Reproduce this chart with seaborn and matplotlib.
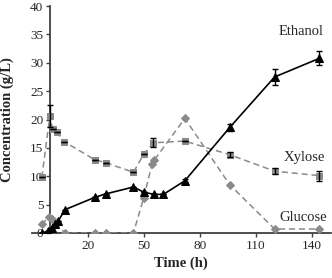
import numpy as np
import pandas as pd
import seaborn as sns
import matplotlib
matplotlib.use('Agg')
import matplotlib.pyplot as plt

# values
eth_t = [-4.5, -1, 0.7, 2.5, 4.3, 7.8, 24, 29.8, 44.5, 50, 55.5, 60.5, 72, 96, 120, 144]
eth_c = [0, 0.3, 0.9, 1.5, 2.1, 4.1, 6.3, 6.9, 8.1, 7.2, 6.8, 6.8, 9.2, 18.6, 27.5, 30.8]
eth_e = [0, 0, 0, 0, 0, 0, 0, 0, 0, 0, 0, 0, 0.3, 0.7, 1.4, 1.2]

xyl_t = [-4.5, -0.2, 1.3, 3.4, 7.5, 23.9, 29.6, 44.5, 50, 55.2, 72, 96, 120, 144]
xyl_c = [9.8, 20.6, 18.3, 17.8, 16.1, 12.9, 12.4, 10.7, 13.9, 15.9, 16.2, 13.8, 10.9, 10.1]
xyl_e = [0, 2.0, 0, 0, 0, 0, 0, 0, 0, 0.8, 0, 0.4, 0.5, 0.9]

glu_t = [-4.5, -0.5, 1.0, 7.8, 23.9, 29.8, 44.5, 50, 54.5, 55.5, 72, 96, 120, 144]
glu_c = [1.5, 2.9, 2.4, 0, 0, 0, 0, 6.2, 12.2, 12.8, 20.2, 8.5, 0.7, 0.7]

sns.set_style('white')
plt.rcParams['font.family'] = ['Liberation Serif', 'DejaVu Serif']

fig = plt.figure(figsize=(3.32, 2.78), dpi=100)
ax = fig.add_axes([0.095, 0.162, 0.901, 0.816])

gray = '#8a8a8a'
df_x = pd.DataFrame({'t': xyl_t, 'c': xyl_c})
df_g = pd.DataFrame({'t': glu_t, 'c': glu_c})
df_e = pd.DataFrame({'t': eth_t, 'c': eth_c})

sns.lineplot(data=df_g, x='t', y='c', ax=ax, color=gray, linestyle=(0, (4, 2.5)), lw=1.1,
             marker='D', markersize=4.5, markeredgecolor=gray, sort=False, zorder=3)
sns.lineplot(data=df_x, x='t', y='c', ax=ax, color=gray, linestyle=(0, (4, 2.5)), lw=1.1,
             marker='s', markersize=5, markeredgecolor=gray, sort=False, zorder=3)
ax.errorbar(xyl_t, xyl_c, yerr=xyl_e, fmt='none', ecolor='black', elinewidth=1, capsize=2.5, zorder=4)
sns.lineplot(data=df_e, x='t', y='c', ax=ax, color='black', lw=1.2,
             marker='^', markersize=6, markeredgecolor='black', sort=False, zorder=5)
ax.errorbar(eth_t, eth_c, yerr=eth_e, fmt='none', ecolor='black', elinewidth=1, capsize=2.5, zorder=6)

ax.set_xlim(-10, 150)
ax.set_ylim(0, 40)
ax.set_xticks([20, 50, 80, 110, 140])
ax.set_yticks(range(0, 41, 5))
ax.spines['left'].set_position(('data', 0))
ax.spines['top'].set_visible(False)
ax.spines['right'].set_visible(False)
for s in ['left', 'bottom']:
    ax.spines[s].set_color('#404040')
    ax.spines[s].set_linewidth(1.3)
ax.tick_params(axis='both', direction='out', length=3, width=1, color='#404040',
               labelsize=9.5, pad=2, bottom=True, left=True)
ax.set_xlabel('Time (h)', fontsize=10.5, fontweight='bold', labelpad=3)
ax.set_ylabel('Concentration (g/L)', fontsize=10.5, fontweight='bold', labelpad=1)
ax.yaxis.set_label_coords(-0.06, 0.5)

ax.text(146, 35.5, 'Ethanol', fontsize=10.5, ha='right', va='center')
ax.text(147, 13.3, 'Xylose', fontsize=10.5, ha='right', va='center')
ax.text(148, 2.8, 'Glucose', fontsize=10.5, ha='right', va='center')

fig.savefig('out.png', dpi=100)
